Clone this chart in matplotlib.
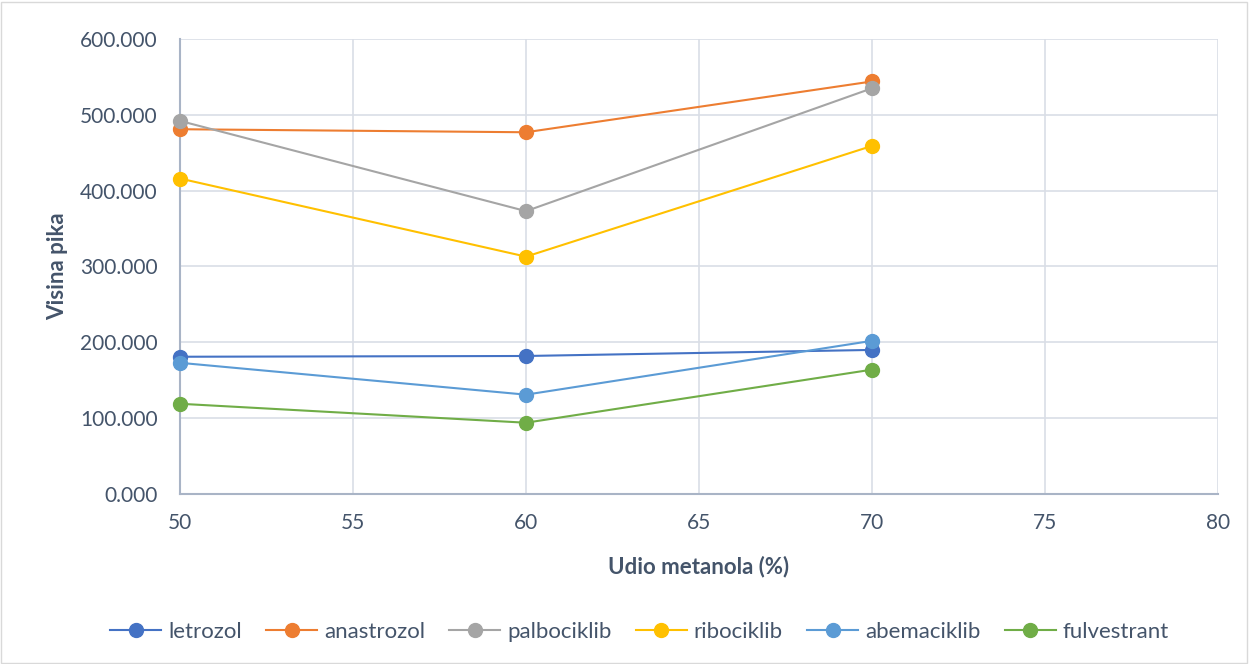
"""Visina pika vs udio metanola – line chart with markers."""
import matplotlib
matplotlib.use("Agg")
import matplotlib.pyplot as plt
from matplotlib.ticker import FuncFormatter

plt.rcParams["font.family"] = ["Lato", "DejaVu Sans"]

udio = [50, 60, 70]
letrozol = [181, 182, 190]
anastrozol = [481, 477, 544]
palbociklib = [492, 373, 535]
ribociklib = [416, 313, 459]
abemaciklib = [173, 131, 202]
fulvestrant = [119, 94, 164]

series = [
    ("letrozol", letrozol, "#4472C4"),
    ("anastrozol", anastrozol, "#ED7D31"),
    ("palbociklib", palbociklib, "#A5A5A5"),
    ("ribociklib", ribociklib, "#FFC000"),
    ("abemaciklib", abemaciklib, "#5B9BD5"),
    ("fulvestrant", fulvestrant, "#70AD47"),
]
txt = "#44546A"

fig = plt.figure(figsize=(12.49, 6.64), dpi=100)
ax = fig.add_axes([0.1441, 0.256, 0.8311, 0.6853])

for name, vals, c in series:
    ax.plot(udio, vals, color=c, lw=1.5, marker="o", ms=10, label=name, zorder=3,
            clip_on=False)

ax.set_xlim(50, 80)
ax.set_ylim(0, 600)
ax.set_xticks(range(50, 81, 5))
ax.set_yticks(range(0, 601, 100))
ax.yaxis.set_major_formatter(FuncFormatter(lambda v, p: f"{v:.3f}"))
ax.grid(color="#D9DEE6", lw=1.2)
ax.set_axisbelow(True)
for s in ["top", "right"]:
    ax.spines[s].set_visible(False)
for s in ["left", "bottom"]:
    ax.spines[s].set_color("#A9B4C6")
    ax.spines[s].set_linewidth(1.5)
ax.tick_params(length=0, labelsize=15, labelcolor=txt)
ax.tick_params(axis="x", pad=14)
ax.tick_params(axis="y", pad=16)
ax.set_xlabel("Udio metanola (%)", fontsize=16, fontweight="bold", color=txt, labelpad=16)
ax.set_ylabel("Visina pika", fontsize=16, fontweight="bold", color=txt, labelpad=9)

leg = fig.legend(loc="center", bbox_to_anchor=(0.512, 0.048), ncol=6, frameon=False,
                 fontsize=16, handlelength=2.3, columnspacing=1.1, handletextpad=0.3)
for t in leg.get_texts():
    t.set_color(txt)

fig.patches.append(plt.Rectangle((0.001, 0.002), 0.997, 0.995, transform=fig.transFigure,
                                 fill=False, edgecolor="#D9D9D9", lw=1))
fig.savefig("out.png", dpi=100)
